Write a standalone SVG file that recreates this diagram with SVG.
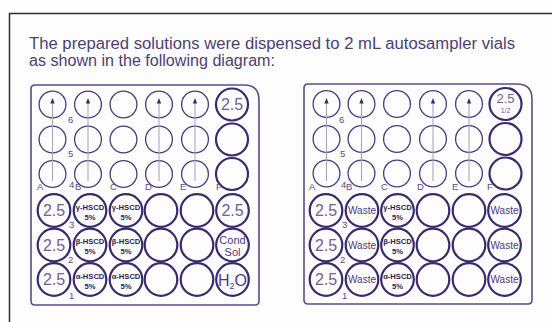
<svg xmlns="http://www.w3.org/2000/svg" width="552" height="322" viewBox="0 0 552 322">
<defs>
<style>
.frame{fill:none;stroke:#2e2e2e;stroke-width:1.5}
.plate{fill:none;stroke:#5a4c84;stroke-width:1.6}
.s{fill:none;stroke:#4a3b7c;stroke-width:1.3}
.b{fill:none;stroke:#3a2a6c;stroke-width:2.2}
.arr{stroke:#a79fbe;stroke-width:1}
.tri{fill:#3a2a6c}
.h{font-family:"Liberation Sans",Arial,sans-serif;font-size:16px;fill:#4d3f70}
.big{font-family:"Liberation Sans",Arial,sans-serif;font-size:16px;fill:#6e6290;text-anchor:middle}
.hs{font-family:"Liberation Sans",Arial,sans-serif;font-size:7.6px;font-weight:bold;fill:#2c1f55;text-anchor:middle}
.w{font-family:"Liberation Sans",Arial,sans-serif;font-size:10px;fill:#4a3b7c;text-anchor:middle}
.lab{font-family:"Liberation Sans",Arial,sans-serif;font-size:9.5px;fill:#5a4c84}
</style>
<path id="tr" d="M0,-5 L2.2,0.5 L-2.2,0.5 Z"/>
</defs>
<rect width="552" height="322" fill="#fdfdfe"/>
<rect class="frame" x="9.5" y="13.5" width="600" height="400"/>
<text class="h" x="29" y="49" textLength="486" lengthAdjust="spacingAndGlyphs">The prepared solutions were dispensed to 2 mL autosampler vials</text>
<text class="h" x="29" y="66" textLength="246" lengthAdjust="spacingAndGlyphs">as shown in the following diagram:</text>

<g id="plate-left">
<path class="plate" d="M35,85 H244 Q259,85 259,100 V301 Q259,305 255,305 H35 Q31,305 31,301 V89 Q31,85 35,85 Z"/>
<g id="L-top">
<circle class="s" cx="52.5" cy="104.5" r="13.4"/><circle class="s" cx="88" cy="104.5" r="13.4"/><circle class="s" cx="123.5" cy="104.5" r="13.4"/><circle class="s" cx="159" cy="104.5" r="13.4"/><circle class="s" cx="195" cy="104.5" r="13.4"/>
<circle class="s" cx="52.5" cy="139.5" r="13.4"/><circle class="s" cx="88" cy="139.5" r="13.4"/><circle class="s" cx="123.5" cy="139.5" r="13.4"/><circle class="s" cx="159" cy="139.5" r="13.4"/><circle class="s" cx="195" cy="139.5" r="13.4"/>
<circle class="s" cx="52.5" cy="174" r="13.4"/><circle class="s" cx="88" cy="174" r="13.4"/><circle class="s" cx="123.5" cy="174" r="13.4"/><circle class="s" cx="159" cy="174" r="13.4"/><circle class="s" cx="195" cy="174" r="13.4"/>
</g>
<g id="L-F6"><circle class="b" cx="232" cy="104.5" r="16"/><text class="big" x="232" y="110">2.5</text></g>
<circle id="L-F5" class="b" cx="232" cy="139.5" r="16"/>
<circle id="L-F4" class="b" cx="232" cy="174" r="16"/>
<g id="L-A3"><circle class="b" cx="54" cy="210.5" r="16.3"/><text class="big" x="54" y="216">2.5</text></g>
<g id="L-A2"><circle class="b" cx="54" cy="245" r="16.3"/><text class="big" x="54" y="250.5">2.5</text></g>
<g id="L-A1"><circle class="b" cx="54" cy="279.5" r="16.3"/><text class="big" x="54" y="285">2.5</text></g>
<g id="L-B3"><circle class="b" cx="90" cy="210.5" r="16.3"/><text class="hs" x="90" y="209.5">γ-HSCD</text><text class="hs" x="90" y="219.5">5%</text></g>
<g id="L-B2"><circle class="b" cx="90" cy="245" r="16.3"/><text class="hs" x="90" y="244">β-HSCD</text><text class="hs" x="90" y="254">5%</text></g>
<g id="L-B1"><circle class="b" cx="90" cy="279.5" r="16.3"/><text class="hs" x="90" y="278.5">α-HSCD</text><text class="hs" x="90" y="288.5">5%</text></g>
<g id="L-C3"><circle class="b" cx="126" cy="210.5" r="16.3"/><text class="hs" x="126" y="209.5">γ-HSCD</text><text class="hs" x="126" y="219.5">5%</text></g>
<g id="L-C2"><circle class="b" cx="126" cy="245" r="16.3"/><text class="hs" x="126" y="244">β-HSCD</text><text class="hs" x="126" y="254">5%</text></g>
<g id="L-C1"><circle class="b" cx="126" cy="279.5" r="16.3"/><text class="hs" x="126" y="278.5">α-HSCD</text><text class="hs" x="126" y="288.5">5%</text></g>
<g id="L-DE">
<circle class="b" cx="161" cy="210.5" r="16.3"/><circle class="b" cx="197" cy="210.5" r="16.3"/>
<circle class="b" cx="161" cy="245" r="16.3"/><circle class="b" cx="197" cy="245" r="16.3"/>
<circle class="b" cx="161" cy="279.5" r="16.3"/><circle class="b" cx="197" cy="279.5" r="16.3"/>
</g>
<g id="L-F3"><circle class="b" cx="232.5" cy="210.5" r="16.3"/><text class="big" x="232.5" y="216">2.5</text></g>
<g id="L-F2"><circle class="b" cx="232.5" cy="245" r="16.3"/><text class="w" x="232.5" y="243.5" style="font-size:11px">Cond</text><text class="w" x="232.5" y="256" style="font-size:11px">Sol</text></g>
<g id="L-F1"><circle class="b" cx="232.5" cy="279.5" r="16.3"/><text class="big" x="232.5" y="285.5" style="fill:#4a3b7c">H<tspan font-size="9" dy="3">2</tspan><tspan dy="-3">O</tspan></text></g>
<g id="L-labels" class="lab">
<text x="37" y="190">A</text><text x="69" y="188">4</text><text x="75" y="190">B</text><text x="110" y="190">C</text><text x="145" y="190">D</text><text x="180" y="190">E</text><text x="216" y="190">F</text>
<text x="68" y="123">6</text><text x="68" y="157">5</text><text x="69" y="228">3</text><text x="68" y="263">2</text><text x="69" y="299">1</text>
</g>
</g>

<g id="plate-right">
<path class="plate" d="M308,84 H517 Q532,84 532,99 V300 Q532,304 528,304 H308 Q304,304 304,300 V88 Q304,84 308,84 Z"/>
<g id="R-top">
<circle class="s" cx="326.5" cy="104" r="13.4"/><circle class="s" cx="361.5" cy="104" r="13.4"/><circle class="s" cx="397" cy="104" r="13.4"/><circle class="s" cx="433" cy="104" r="13.4"/><circle class="s" cx="469" cy="104" r="13.4"/>
<circle class="s" cx="326.5" cy="139" r="13.4"/><circle class="s" cx="361.5" cy="139" r="13.4"/><circle class="s" cx="397" cy="139" r="13.4"/><circle class="s" cx="433" cy="139" r="13.4"/><circle class="s" cx="469" cy="139" r="13.4"/>
<circle class="s" cx="326.5" cy="173.5" r="13.4"/><circle class="s" cx="361.5" cy="173.5" r="13.4"/><circle class="s" cx="397" cy="173.5" r="13.4"/><circle class="s" cx="433" cy="173.5" r="13.4"/><circle class="s" cx="469" cy="173.5" r="13.4"/>
</g>
<g id="R-F6"><circle class="b" cx="505.5" cy="104" r="16"/><text class="big" x="505.5" y="103" style="font-size:13px">2.5</text><text class="big" x="505.5" y="113" style="font-size:7px">1/2</text></g>
<circle id="R-F5" class="b" cx="505.5" cy="139" r="16"/>
<circle id="R-F4" class="b" cx="505.5" cy="173.5" r="16"/>
<g id="R-A3"><circle class="b" cx="326" cy="210.5" r="16.3"/><text class="big" x="326" y="216">2.5</text></g>
<g id="R-A2"><circle class="b" cx="326" cy="245" r="16.3"/><text class="big" x="326" y="250.5">2.5</text></g>
<g id="R-A1"><circle class="b" cx="326" cy="279.5" r="16.3"/><text class="big" x="326" y="285">2.5</text></g>
<g id="R-B3"><circle class="b" cx="362" cy="210.5" r="16.3"/><text class="w" x="362" y="214">Waste</text></g>
<g id="R-B2"><circle class="b" cx="362" cy="245" r="16.3"/><text class="w" x="362" y="248.5">Waste</text></g>
<g id="R-B1"><circle class="b" cx="362" cy="279.5" r="16.3"/><text class="w" x="362" y="283">Waste</text></g>
<g id="R-C3"><circle class="b" cx="397.5" cy="210.5" r="16.3"/><text class="hs" x="397.5" y="209.5">γ-HSCD</text><text class="hs" x="397.5" y="219.5">5%</text></g>
<g id="R-C2"><circle class="b" cx="397.5" cy="245" r="16.3"/><text class="hs" x="397.5" y="244">β-HSCD</text><text class="hs" x="397.5" y="254">5%</text></g>
<g id="R-C1"><circle class="b" cx="397.5" cy="279.5" r="16.3"/><text class="hs" x="397.5" y="278.5">α-HSCD</text><text class="hs" x="397.5" y="288.5">5%</text></g>
<g id="R-DE">
<circle class="b" cx="433" cy="210.5" r="16.3"/><circle class="b" cx="469" cy="210.5" r="16.3"/>
<circle class="b" cx="433" cy="245" r="16.3"/><circle class="b" cx="469" cy="245" r="16.3"/>
<circle class="b" cx="433" cy="279.5" r="16.3"/><circle class="b" cx="469" cy="279.5" r="16.3"/>
</g>
<g id="R-F3"><circle class="b" cx="504.5" cy="210.5" r="16.3"/><text class="w" x="504.5" y="214">Waste</text></g>
<g id="R-F2"><circle class="b" cx="504.5" cy="245" r="16.3"/><text class="w" x="504.5" y="248.5">Waste</text></g>
<g id="R-F1"><circle class="b" cx="504.5" cy="279.5" r="16.3"/><text class="w" x="504.5" y="283">Waste</text></g>
<g id="R-labels" class="lab">
<text x="309" y="190">A</text><text x="341" y="188">4</text><text x="346" y="190">B</text><text x="381" y="190">C</text><text x="417" y="190">D</text><text x="452" y="190">E</text><text x="487" y="190">F</text>
<text x="339" y="123">6</text><text x="340" y="157">5</text><text x="342" y="228">3</text><text x="340" y="263">2</text><text x="342" y="299">1</text>
</g>
</g>

<g id="connectors">
<line class="arr" x1="52.5" y1="102" x2="52.5" y2="181"/><use href="#tr" class="tri" x="52.5" y="103"/>
<line class="arr" x1="88" y1="102" x2="88" y2="181"/><use href="#tr" class="tri" x="88" y="103"/>
<line class="arr" x1="159" y1="102" x2="159" y2="181"/><use href="#tr" class="tri" x="159" y="103"/>
<line class="arr" x1="195" y1="102" x2="195" y2="181"/><use href="#tr" class="tri" x="195" y="103"/>
<line class="arr" x1="326.5" y1="102" x2="326.5" y2="181"/><use href="#tr" class="tri" x="326.5" y="103"/>
<line class="arr" x1="361.5" y1="102" x2="361.5" y2="181"/><use href="#tr" class="tri" x="361.5" y="103"/>
<line class="arr" x1="433" y1="102" x2="433" y2="181"/><use href="#tr" class="tri" x="433" y="103"/>
<line class="arr" x1="469" y1="102" x2="469" y2="181"/><use href="#tr" class="tri" x="469" y="103"/>
</g>
</svg>
